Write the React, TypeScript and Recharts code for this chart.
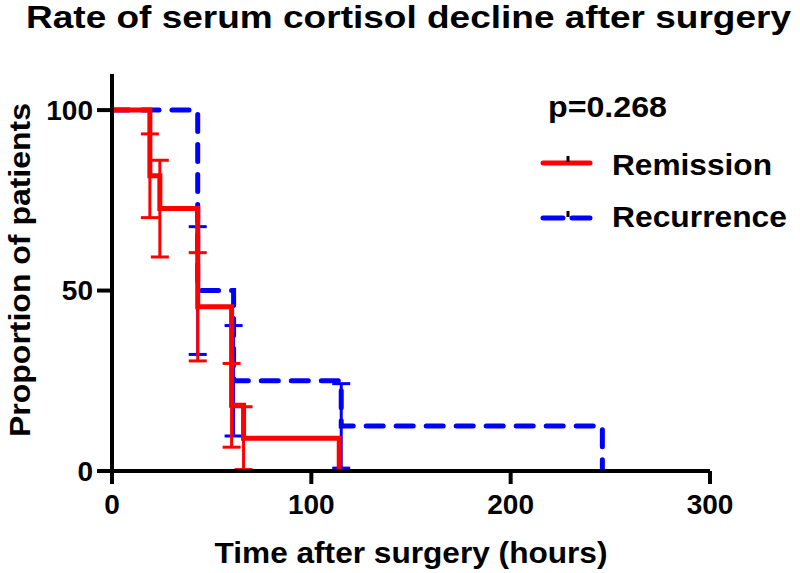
import React from "react";
import { ComposedChart, Line, XAxis, YAxis, ErrorBar, Legend, Label } from "recharts";

const FONT = '"Liberation Sans", Arial, Helvetica, sans-serif';

// Kaplan-Meier style steps, % of patients still above threshold
const remissionHours = [0, 19, 24, 43, 60, 66, 114];
const remissionPct = [100, 81.8, 72.7, 45.5, 18.2, 9.1, 0];
const remissionErr = [0, 11.6, 13.4, 15.0, 11.6, 8.7, 0];

const recurrenceHours = [0, 43, 61, 115, 246];
const recurrencePct = [100, 50, 25, 12.5, 0];
const recurrenceErr = [0, 17.7, 15.3, 11.7, 0];

const xTicks = [0, 100, 200, 300];
const yTicks = [0, 50, 100];

const remission = remissionHours.map((t, i) => ({
  t,
  v: remissionPct[i],
  e: remissionErr[i] || null,
}));
const recurrence = recurrenceHours.map((t, i) => ({
  t,
  v: recurrencePct[i],
  e: recurrenceErr[i] || null,
}));

const axisStroke = { stroke: "#000", strokeWidth: 4 };
const tickFont = { fill: "#000", fontSize: 28, fontWeight: "bold", fontFamily: FONT };

function renderLegend() {
  return (
    <svg width={270} height={170} style={{ display: "block" }}>
      <text x={18} y={37} fontSize={30} fontWeight="bold" fontFamily={FONT} textLength={119} lengthAdjust="spacingAndGlyphs">
        p=0.268
      </text>
      <line x1={13} y1={83} x2={60} y2={83} stroke="#ff0000" strokeWidth={5} strokeLinecap="round" />
      <line x1={38} y1={76} x2={38} y2={82} stroke="#000" strokeWidth={3} />
      <text x={82} y={95} fontSize={30} fontWeight="bold" fontFamily={FONT} textLength={160} lengthAdjust="spacingAndGlyphs">
        Remission
      </text>
      <line x1={13} y1={138} x2={60} y2={138} stroke="#0000ff" strokeWidth={5} strokeLinecap="round" strokeDasharray="20 9" />
      <line x1={38} y1={131} x2={38} y2={137} stroke="#000" strokeWidth={3} />
      <text x={82} y={147} fontSize={30} fontWeight="bold" fontFamily={FONT} textLength={175} lengthAdjust="spacingAndGlyphs">
        Recurrence
      </text>
    </svg>
  );
}

export default function App() {
  return (
    <div style={{ position: "absolute", left: 0, top: 0, width: 800, height: 573, background: "#fff" }}>
      <svg width={800} height={50} style={{ position: "absolute", left: 0, top: 0 }}>
        <text x={26} y={28} fontSize={32} fontWeight="bold" fontFamily={FONT} textLength={765} lengthAdjust="spacingAndGlyphs">
          Rate of serum cortisol decline after surgery
        </text>
      </svg>
      <ComposedChart width={800} height={573} margin={{ top: 74, right: 90, bottom: 0, left: 0 }}>
        <XAxis
          type="number"
          dataKey="t"
          domain={[0, 300]}
          ticks={xTicks}
          allowDataOverflow
          height={102}
          tickSize={13}
          tickMargin={10}
          axisLine={axisStroke}
          tickLine={axisStroke}
          tick={tickFont}
        >
          <Label
            content={() => (
              <text x={411} y={563} textAnchor="middle" fontSize={30} fontWeight="bold" fontFamily={FONT} textLength={393} lengthAdjust="spacingAndGlyphs">
                Time after surgery (hours)
              </text>
            )}
          />
        </XAxis>
        <YAxis
          type="number"
          domain={[0, 110]}
          ticks={yTicks}
          allowDataOverflow
          width={112}
          tickSize={15}
          tickMargin={4}
          axisLine={axisStroke}
          tickLine={axisStroke}
          tick={tickFont}
        >
          <Label
            content={() => (
              <text x={30} y={270} transform="rotate(-90 30 270)" textAnchor="middle" fontSize={30} fontWeight="bold" fontFamily={FONT} textLength={334} lengthAdjust="spacingAndGlyphs">
                Proportion of patients
              </text>
            )}
          />
        </YAxis>
        <Legend
          layout="vertical"
          align="center"
          verticalAlign="middle"
          wrapperStyle={{ left: 530, top: 80, width: 270, height: 170 }}
          content={renderLegend}
        />
        <Line
          data={recurrence}
          dataKey="v"
          name="Recurrence"
          type="stepAfter"
          stroke="#0000ff"
          strokeWidth={5}
          strokeDasharray="17 13"
          strokeLinecap="round"
          dot={false}
          activeDot={false}
          isAnimationActive={false}
        >
          <ErrorBar dataKey="e" direction="y" width={9} stroke="#0000ff" strokeWidth={3} isAnimationActive={false} />
        </Line>
        <Line
          data={remission}
          dataKey="v"
          name="Remission"
          type="stepAfter"
          stroke="#ff0000"
          strokeWidth={5}
          dot={false}
          activeDot={false}
          isAnimationActive={false}
        >
          <ErrorBar dataKey="e" direction="y" width={9} stroke="#ff0000" strokeWidth={3} isAnimationActive={false} />
        </Line>
      </ComposedChart>
    </div>
  );
}
